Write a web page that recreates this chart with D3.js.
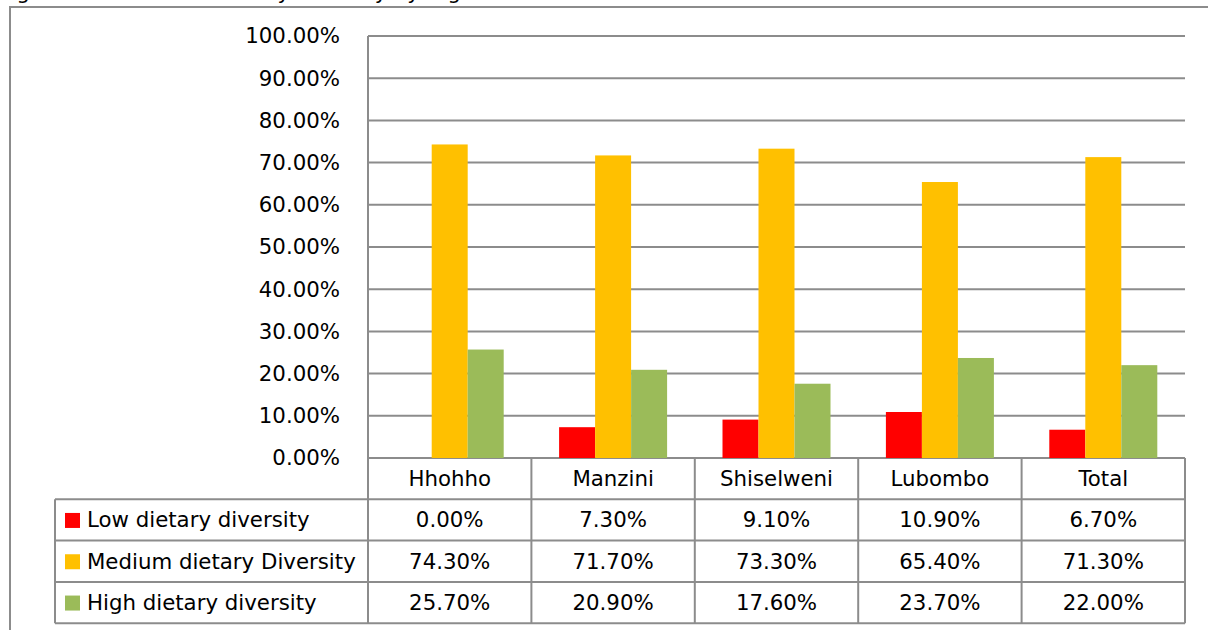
<!DOCTYPE html>
<html lang="en">
<head>
  <meta charset="UTF-8">
  <title>Dietary diversity by region</title>
  <script src="https://d3js.org/d3.v7.min.js"></script>
  <style>
    body { margin: 0; background: #fff; }
    svg text { font-family: "DejaVu Sans", "Open Sans", sans-serif; fill: #000; }
  </style>
</head>
<body>
  <svg width="1208" height="630"></svg>
  <script>
    // data
    const regions = ["Hhohho", "Manzini", "Shiselweni", "Lubombo", "Total"];
    const seriesNames = ["Low dietary diversity", "Medium dietary Diversity", "High dietary diversity"];
    const seriesColors = ["#ff0000", "#ffc000", "#9bbb59"];
    const lowValues = [0.000, 0.073, 0.091, 0.109, 0.067];
    const mediumValues = [0.743, 0.717, 0.733, 0.654, 0.713];
    const highValues = [0.257, 0.209, 0.176, 0.237, 0.220];
    const yTicks = [0, 0.1, 0.2, 0.3, 0.4, 0.5, 0.6, 0.7, 0.8, 0.9, 1.0];

    const series = [lowValues, mediumValues, highValues];
    const fmt = d3.format(".2%");
    const gridColor = "#8c8c8c";
    const fontSize = 21.3;

    const svg = d3.select("svg");

    // caption cut off at the top of the picture
    svg.append("text").attr("x", 0).attr("y", -1)
      .style("font-size", "21px")
      .text("Figure 6: Household dietary diversity by region");

    // outer chart frame
    svg.append("path")
      .attr("d", "M10,630 V7 H1208")
      .attr("fill", "none").attr("stroke", gridColor).attr("stroke-width", 2);

    const plotLeft = 368, plotRight = 1185, plotTop = 36, plotBottom = 458;
    const rowH = 41.3, legendLeft = 55;

    const x0 = d3.scaleBand().domain(regions).range([plotLeft, plotRight]);
    const x1 = d3.scaleBand().domain(d3.range(series.length))
      .range([x0.bandwidth() / 2 - 54, x0.bandwidth() / 2 + 54]);
    const y = d3.scaleLinear().domain([0, 1]).range([plotBottom, plotTop]);

    // gridlines
    svg.append("g").selectAll("line").data(yTicks).enter().append("line")
      .attr("x1", plotLeft).attr("x2", plotRight)
      .attr("y1", d => y(d)).attr("y2", d => y(d))
      .attr("stroke", gridColor).attr("stroke-width", 2);

    // y labels
    svg.append("g").selectAll("text").data(yTicks).enter().append("text")
      .attr("x", 340).attr("y", d => y(d))
      .attr("text-anchor", "end").attr("dy", "0.35em")
      .style("font-size", fontSize + "px")
      .text(d => fmt(d));

    // bars
    const groups = svg.append("g").selectAll("g").data(regions).enter().append("g")
      .attr("transform", d => `translate(${x0(d)},0)`);
    groups.selectAll("rect")
      .data((d, i) => series.map((s, k) => ({ k, v: s[i] })))
      .enter().append("rect")
      .attr("x", d => x1(d.k)).attr("width", x1.bandwidth())
      .attr("y", d => y(d.v)).attr("height", d => plotBottom - y(d.v))
      .attr("fill", d => seriesColors[d.k]);

    // data table
    const tableBottom = plotBottom + rowH * 4;
    const table = svg.append("g").attr("stroke", gridColor).attr("stroke-width", 2);
    table.append("line").attr("x1", plotLeft).attr("x2", plotLeft).attr("y1", plotTop).attr("y2", tableBottom);
    regions.forEach(r => {
      const xr = x0(r) + x0.bandwidth();
      table.append("line").attr("x1", xr).attr("x2", xr).attr("y1", plotBottom).attr("y2", tableBottom);
    });
    table.append("line").attr("x1", legendLeft).attr("x2", legendLeft)
      .attr("y1", plotBottom + rowH).attr("y2", tableBottom);
    [1, 2, 3, 4].forEach(r => {
      table.append("line").attr("x1", legendLeft).attr("x2", plotRight)
        .attr("y1", plotBottom + rowH * r).attr("y2", plotBottom + rowH * r);
    });

    // header labels
    svg.append("g").selectAll("text").data(regions).enter().append("text")
      .attr("x", d => x0(d) + x0.bandwidth() / 2).attr("y", plotBottom + rowH / 2)
      .attr("text-anchor", "middle").attr("dy", "0.35em")
      .style("font-size", fontSize + "px")
      .text(d => d);

    // legend column and values
    seriesNames.forEach((name, k) => {
      const cy = plotBottom + rowH * (k + 1) + rowH / 2;
      svg.append("rect").attr("x", 65).attr("y", cy - 7).attr("width", 15).attr("height", 15)
        .attr("fill", seriesColors[k]);
      svg.append("text").attr("x", 87).attr("y", cy).attr("dy", "0.35em")
        .style("font-size", fontSize + "px").text(name);
      svg.append("g").selectAll("text").data(series[k]).enter().append("text")
        .attr("x", (d, i) => x0(regions[i]) + x0.bandwidth() / 2).attr("y", cy)
        .attr("text-anchor", "middle").attr("dy", "0.35em")
        .style("font-size", fontSize + "px")
        .text(d => fmt(d));
    });
  </script>
</body>
</html>
